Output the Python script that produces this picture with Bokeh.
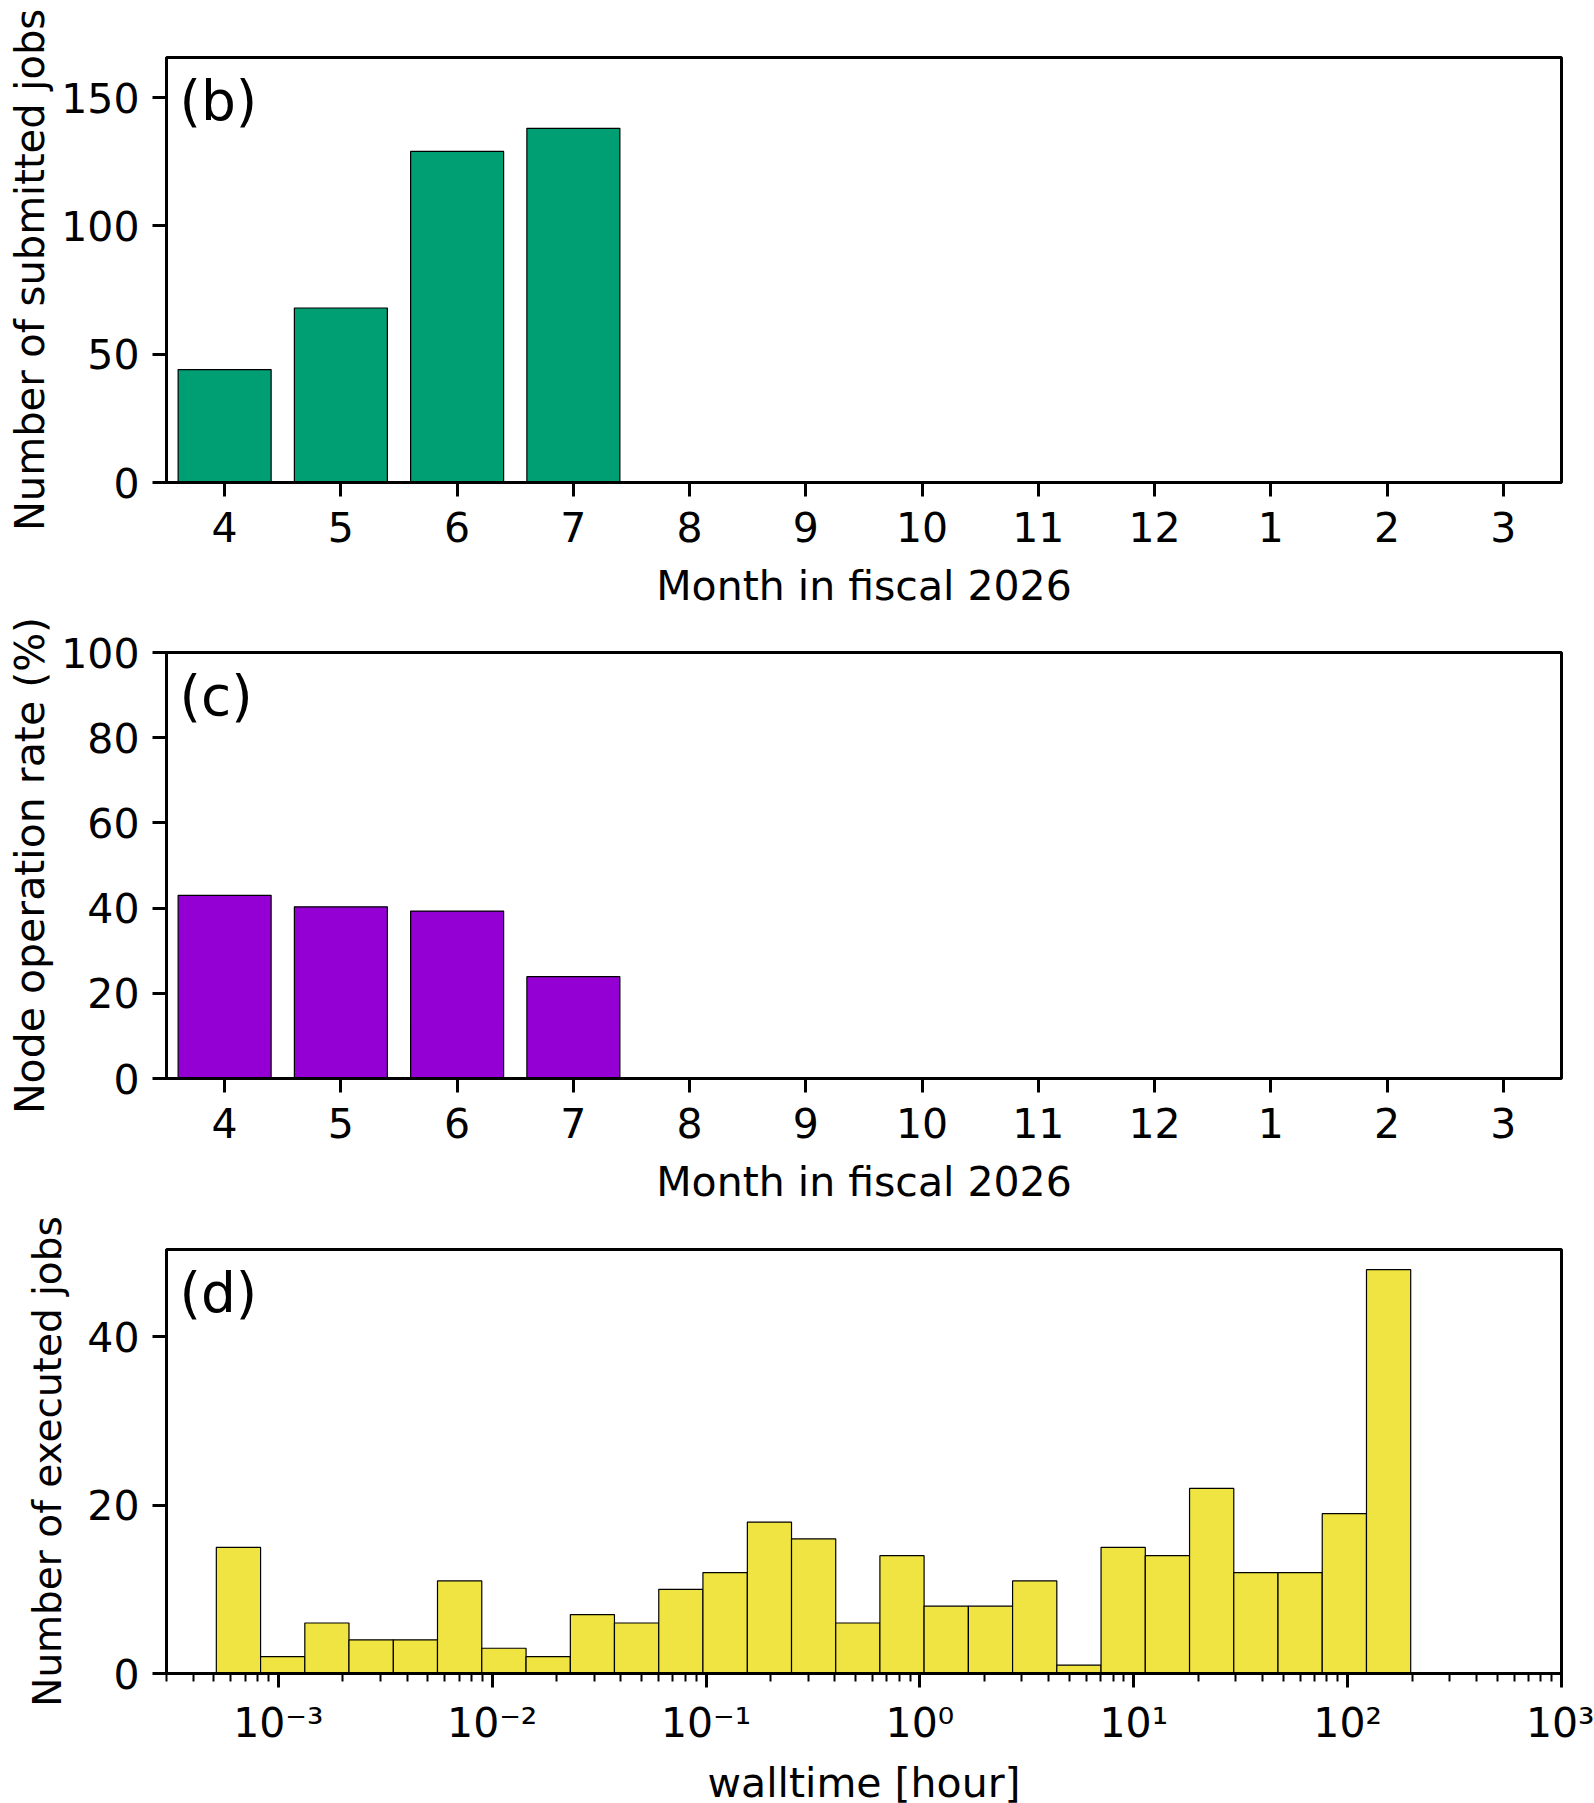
from bokeh.plotting import figure
from bokeh.models import Range1d, FactorRange, FixedTicker, CustomJSTickFormatter, Label
from bokeh.layouts import column
from bokeh.embed import file_html
from bokeh.resources import INLINE

# ---------------- data ----------------
months = ["4", "5", "6", "7", "8", "9", "10", "11", "12", "1", "2", "3"]
submitted_jobs = [44, 68, 129, 138]
operation_rate = [43.0, 40.3, 39.3, 23.9]

walltime_bin_edges = [0.000513, 0.000826, 0.00133, 0.00214, 0.00345, 0.00555,
                      0.00894, 0.0144, 0.0232, 0.0373, 0.0601, 0.0967, 0.156,
                      0.251, 0.404, 0.650, 1.046, 1.685, 2.712, 4.367, 7.03,
                      11.32, 18.23, 29.35, 47.25, 76.07, 122.5, 197.2]
executed_jobs = [15, 2, 6, 4, 4, 11, 3, 2, 7, 6, 10, 12, 18, 16, 6, 14, 8, 8,
                 11, 1, 15, 14, 22, 12, 12, 19, 48]

walltime_ticks = [1e-3, 1e-2, 1e-1, 1.0, 1e1, 1e2, 1e3]
walltime_tick_labels = ["10\u207b\u00b3", "10\u207b\u00b2", "10\u207b\u00b9",
                        "10\u2070", "10\u00b9", "10\u00b2", "10\u00b3"]
b_yticks = [0, 50, 100, 150]
c_yticks = [0, 20, 40, 60, 80, 100]
d_yticks = [0, 20, 40]

# ---------------- style ----------------
FONT = "DejaVu Sans"
FS = "41px"
GREEN = "#009E73"
PURPLE = "#9400D3"
YELLOW = "#F0E442"
FW = 1395
LEFT = 166
RIGHT = 33


def style(p, xlabel, ylabel, yticks, xlab_standoff, xtick_standoff,
          ylab_standoff, ylab_size):
    p.xgrid.visible = False
    p.ygrid.visible = False
    p.outline_line_color = "black"
    p.outline_line_width = 3
    p.outline_line_alpha = 1.0
    p.background_fill_color = "white"
    p.border_fill_color = "white"
    for ax in p.axis:
        ax.axis_line_width = 3
        ax.axis_line_color = "black"
        ax.major_tick_line_width = 3
        ax.major_tick_line_color = "black"
        ax.major_tick_out = 14
        ax.major_tick_in = 0
        ax.minor_tick_line_color = None
        ax.major_label_text_font = FONT
        ax.major_label_text_font_size = FS
        ax.major_label_text_color = "black"
        ax.axis_label_text_font = FONT
        ax.axis_label_text_font_size = FS
        ax.axis_label_text_font_style = "normal"
        ax.axis_label_text_color = "black"
    p.yaxis.ticker = FixedTicker(ticks=yticks)
    p.yaxis.major_label_standoff = 13
    p.yaxis.axis_label = ylabel
    p.yaxis.axis_label_standoff = ylab_standoff
    p.yaxis.axis_label_text_font_size = ylab_size
    p.xaxis.axis_label = xlabel
    p.xaxis.major_label_standoff = xtick_standoff
    p.xaxis.axis_label_standoff = xlab_standoff


def panel_label(p, text, fh):
    p.add_layout(Label(x=13, y=fh - 43, x_units="screen", y_units="screen",
                       text=text, text_font=FONT, text_font_size="55px",
                       text_baseline="middle", text_align="left",
                       text_color="black"))


# (b)
pb = figure(frame_width=FW, frame_height=425, x_range=FactorRange(factors=months),
            y_range=Range1d(0, 165.6), output_backend="svg", toolbar_location=None,
            min_border_left=LEFT, min_border_right=RIGHT, min_border_top=57,
            min_border_bottom=131)
pb.vbar(x=months[:len(submitted_jobs)], top=submitted_jobs, width=0.8,
        fill_color=GREEN, line_color="black", line_width=1.2)
style(pb, "Month in fiscal 2026", "Number of submitted jobs", b_yticks, 17, 15,
      5, "40px")
panel_label(pb, "(b)", 425)

# (c)
pc = figure(frame_width=FW, frame_height=426, x_range=FactorRange(factors=months),
            y_range=Range1d(0, 100), output_backend="svg", toolbar_location=None,
            min_border_left=LEFT, min_border_right=RIGHT, min_border_top=39,
            min_border_bottom=132)
pc.vbar(x=months[:len(operation_rate)], top=operation_rate, width=0.8,
        fill_color=PURPLE, line_color="black", line_width=1.2)
style(pc, "Month in fiscal 2026", "Node operation rate (%)", c_yticks, 17, 15,
      4, "41px")
panel_label(pc, "(c)", 426)

# (d)
pd_ = figure(frame_width=FW, frame_height=424, x_axis_type="log",
             x_range=Range1d(3e-4, 1e3), y_range=Range1d(0, 50.4),
             output_backend="svg", toolbar_location=None,
             min_border_left=LEFT, min_border_right=RIGHT, min_border_top=39,
             min_border_bottom=129)
pd_.quad(left=walltime_bin_edges[:-1], right=walltime_bin_edges[1:], bottom=0,
         top=executed_jobs, fill_color=YELLOW, line_color="black", line_width=1.2)
style(pd_, "walltime [hour]", "Number of executed jobs", d_yticks, 9, 11,
      14, "39px")
minor = []
for e in range(-4, 3):
    for m in range(2, 10):
        v = m * 10.0 ** e
        if 3e-4 <= v <= 1e3:
            minor.append(v)
pd_.xaxis.ticker = FixedTicker(ticks=walltime_ticks, minor_ticks=minor)
pd_.xaxis.formatter = CustomJSTickFormatter(
    args=dict(tvals=walltime_ticks, tlabels=walltime_tick_labels),
    code="""
    for (let i = 0; i < tvals.length; i++) {
        if (Math.abs(Math.log10(tick) - Math.log10(tvals[i])) < 1e-6) return tlabels[i];
    }
    return "";
    """)
pd_.xaxis.minor_tick_line_color = "black"
pd_.xaxis.minor_tick_line_width = 2
pd_.xaxis.minor_tick_out = 8
pd_.xaxis.minor_tick_in = 0
panel_label(pd_, "(d)", 424)

layout = column(pb, pc, pd_)
open("out.html", "w").write(file_html(layout, INLINE))
